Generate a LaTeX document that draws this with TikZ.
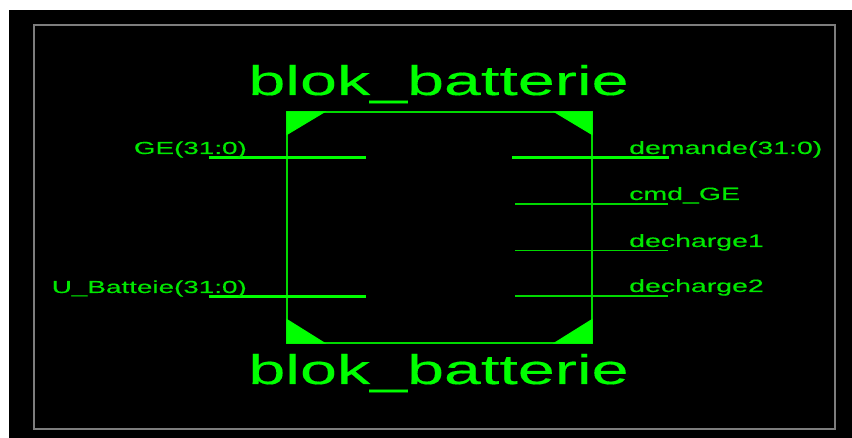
\documentclass[tikz,border=0pt]{standalone}
\usepackage{fontspec}
\usepackage{tikz}
\usetikzlibrary{positioning}
\newfontfamily\widefont[FakeStretch=1.6,FakeBold=0.3]{Liberation Sans}
\definecolor{symgreen}{RGB}{0,255,0}
\definecolor{txtgreen}{RGB}{0,232,0}
\definecolor{framegray}{RGB}{125,125,125}
\begin{document}
\begin{tikzpicture}[x=1pt,y=-1pt,
	blk/.style={draw=symgreen!85!black,line width=1.2pt,minimum width=305pt,minimum height=231pt,inner sep=0pt},
	ttl/.style={color=symgreen,inner sep=0pt,anchor=base,font=\widefont\fontsize{41.5}{42}\selectfont},
	pinl/.style={color=txtgreen,inner sep=0pt,font=\widefont\fontsize{17.8}{18}\selectfont},
	pinr/.style={color=txtgreen,inner sep=0pt,font=\widefont\fontsize{17.4}{18}\selectfont},
	bus/.style={draw=symgreen,line width=3.2pt},
	sig/.style={draw=symgreen!85!black,line width=1.2pt},
	crn/.style={fill=symgreen}]
	\useasboundingbox (0,0) rectangle (852,438);
	\fill[black] (9,10) rectangle (852,438);
	\node(frm)[draw=framegray,line width=1.5pt,minimum width=801pt,minimum height=404pt,inner sep=0pt] at (434.5,227){};
	%symbol
	\node(box)[blk] at (439.5,227.5){};
	\node(t1)[ttl] at (438.5,95){blok\_batterie};
	\node(t2)[ttl] at (438.5,384){blok\_batterie};
	%corners
	\fill[crn] (box.north west) -- ++(40,0) -- ++(-40,24) -- cycle;
	\fill[crn] (box.north east) -- ++(-40,0) -- ++(40,24) -- cycle;
	\fill[crn] (box.south west) -- ++(40,0) -- ++(-40,-25) -- cycle;
	\fill[crn] (box.south east) -- ++(-40,0) -- ++(40,-25) -- cycle;
	%left
	\coordinate(a1) at (209,157.5);
	\coordinate(a2) at (366,157.5);
	\coordinate(a3) at (209,296.5);
	\coordinate(a4) at (366,296.5);
	\draw[bus] (a1) -- (a2);
	\draw[bus] (a3) -- (a4);
	\node(l1)[pinr,anchor=base east] at (247,154){GE(31:0)};
	\node(l2)[pinr,anchor=base east] at (247,293){U\_Batteie(31:0)};
	%right
	\coordinate(b1) at (512,157.5);
	\coordinate(b2) at (669,157.5);
	\coordinate(b3) at (515,204);
	\coordinate(b4) at (668,204);
	\coordinate(b5) at (515,250.5);
	\coordinate(b6) at (668,250.5);
	\coordinate(b7) at (515,296);
	\coordinate(b8) at (668,296);
	\draw[bus] (b1) -- (b2);
	\draw[sig] (b3) -- (b4);
	\draw[sig] (b5) -- (b6);
	\draw[sig] (b7) -- (b8);
	\node(r1)[pinl,anchor=base west] at (629,154){demande(31:0)};
	\node(r2)[pinl,anchor=base west] at (629,200){cmd\_GE};
	\node(r3)[pinl,anchor=base west] at (629,247){decharge1};
	\node(r4)[pinl,anchor=base west] at (629,292){decharge2};
\end{tikzpicture}
\end{document}
